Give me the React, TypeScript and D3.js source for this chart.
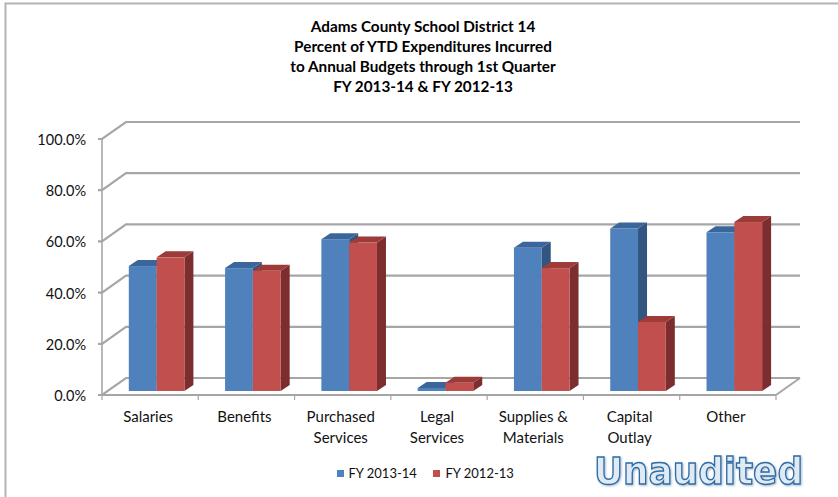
import React from "react";
import * as d3 from "d3";

const categories = [["Salaries"], ["Benefits"], ["Purchased", "Services"], ["Legal", "Services"], ["Supplies &", "Materials"], ["Capital", "Outlay"], ["Other"]];
const fy1314 = [48.8, 48, 59.3, 1.2, 56, 63.5, 62];
const fy1213 = [52.2, 47, 58, 3.2, 48, 27, 66];
const ticks = [0, 20, 40, 60, 80, 100];
const titleLines = ["Adams County School District 14", "Percent of YTD Expenditures Incurred", "to Annual Budgets through 1st Quarter", "FY 2013-14 & FY 2012-13"];
const seriesNames = ["FY 2013-14", "FY 2012-13"];

const W = 838, H = 497;
const axisX0 = 102, axisX1 = 776, y0 = 395, y100 = 139;
const depthX = 24, depthY = -17;
const barBase = 391, barTop100 = 135;
const barDX = 9, barDY = -6;
const GRID = "#a6a6a6";
const FONT = "Lato, 'Open Sans', sans-serif";

const x = d3.scaleBand<number>().domain(d3.range(categories.length)).range([axisX0, axisX1]);
const y = d3.scaleLinear().domain([0, 100]).range([y0, y100]);
const yBar = d3.scaleLinear().domain([0, 100]).range([barBase, barTop100]);

const BLUE = { front: "#4f81bd", top: "#3b669c", side: "#31577f" };
const RED = { front: "#c0504d", top: "#9c3a38", side: "#7c2f2d" };

function Bar({ left, w, v, c }: { left: number; w: number; v: number; c: typeof BLUE }) {
  const t = yBar(v);
  const pts = (a: number[][]) => a.map((p) => p.join(",")).join(" ");
  return (
    <g>
      <polygon fill={c.side} points={pts([[left + w, t], [left + w + barDX, t + barDY], [left + w + barDX, barBase + barDY], [left + w, barBase]])} />
      <polygon fill={c.top} points={pts([[left, t], [left + barDX, t + barDY], [left + w + barDX, t + barDY], [left + w, t]])} />
      <rect x={left} y={t} width={w} height={barBase - t} fill={c.front} />
    </g>
  );
}

export default function App() {
  const bw = x.bandwidth();
  const barW = 27.8;
  return (
    <svg width={W} height={H} viewBox={`0 0 ${W} ${H}`} style={{ position: "absolute", left: 0, top: 0, background: "#fff" }} fontFamily={FONT}>
      <defs>
        <filter id="soft" x="-2%" y="-2%" width="104%" height="104%">
          <feGaussianBlur stdDeviation="0.45" />
        </filter>
        <filter id="wa" x="-5%" y="-10%" width="110%" height="130%">
          <feDropShadow dx="1" dy="1" stdDeviation="1" floodColor="#7f9fbf" floodOpacity="0.7" />
        </filter>
      </defs>
      <path d={`M5.5 497V3.5H838`} fill="none" stroke="#b3b3b3" strokeWidth={2} />
      <g filter="url(#soft)">
        {ticks.map((t) => (
          <g key={t}>
            <polyline fill="none" stroke={GRID} strokeWidth={2.2}
              points={`${axisX0 - 4},${y(t)} ${axisX0},${y(t)} ${axisX0 + depthX},${y(t) + depthY} ${axisX1 + depthX},${y(t) + depthY}`} />
          </g>
        ))}
        <line x1={axisX1} y1={y0} x2={axisX1 + depthX} y2={y0 + depthY} stroke={GRID} strokeWidth={2} />
        <line x1={axisX0} y1={y100} x2={axisX0} y2={y0} stroke={GRID} strokeWidth={1.6} />
        <line x1={axisX0} y1={y0} x2={axisX1} y2={y0} stroke={GRID} strokeWidth={2} />
        {d3.range(categories.length + 1).map((i) => {
          const px = axisX0 + i * bw;
          return <line key={i} x1={px} x2={px} y1={y0} y2={y0 + 5} stroke={GRID} strokeWidth={1.2} />;
        })}
        {categories.map((_, i) => {
          const cx = (x(i) as number) + 26.8;
          return (
            <g key={i}>
              <Bar left={cx} w={barW} v={fy1314[i]} c={BLUE} />
              <Bar left={cx + barW} w={barW} v={fy1213[i]} c={RED} />
            </g>
          );
        })}
      </g>
      <g fill="#111" fontSize={14.5}>
        {ticks.map((t) => (
          <text key={t} x={86} y={y(t) + 6} textAnchor="end">{d3.format(".1f")(t)}%</text>
        ))}
      </g>
      <g fill="#111" fontSize={15}>
        {categories.map((lines, i) =>
          lines.map((l, j) => (
            <text key={l} x={(x(i) as number) + bw / 2 - 2} y={421.5 + j * 21} textAnchor="middle">{l}</text>
          ))
        )}
      </g>
      <g fill="#000" fontSize={15.3} fontWeight={700} textAnchor="middle">
        {titleLines.map((l, i) => (
          <text key={l} x={423} y={31.5 + i * 20}>{l}</text>
        ))}
      </g>
      <g fontSize={13} fill="#111">
        <rect x={337} y={470} width={7} height={7} fill={BLUE.front} />
        <text x={348.5} y={478}>{seriesNames[0]}</text>
        <rect x={433} y={470} width={7} height={7} fill={RED.front} />
        <text x={445.5} y={478}>{seriesNames[1]}</text>
      </g>
      <text x={594} y={484} fontFamily="'DejaVu Sans', sans-serif" fontWeight={700} fontSize={38} textLength={209} lengthAdjust="spacingAndGlyphs"
        fill="#dfeaf5" stroke="#2e6ca4" strokeWidth={1.4} filter="url(#wa)">Unaudited</text>
    </svg>
  );
}
